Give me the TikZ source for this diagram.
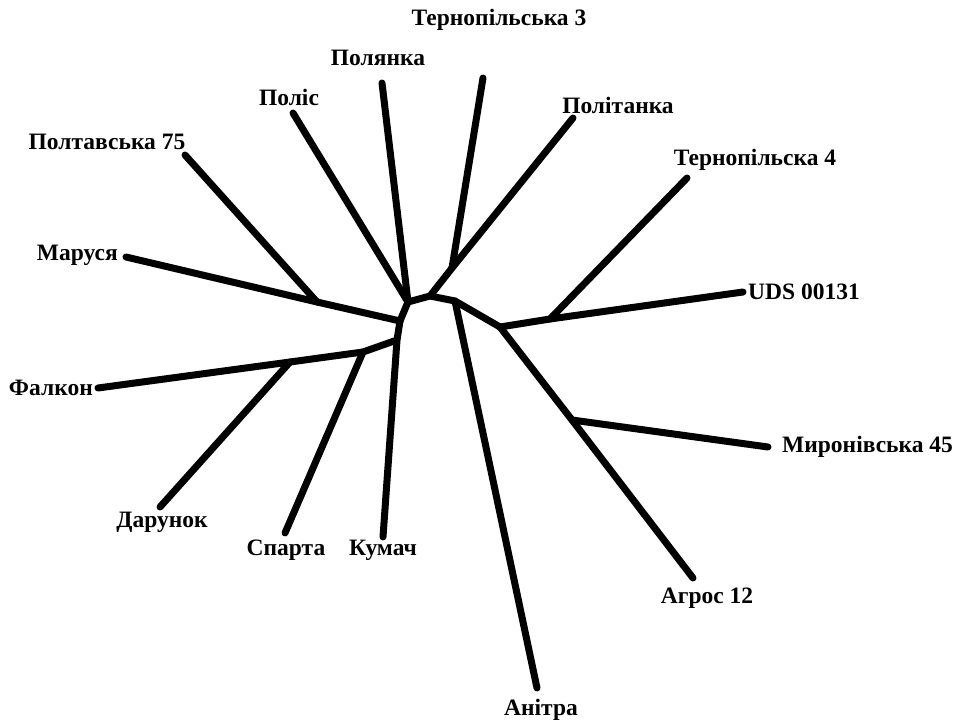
\documentclass[tikz,border=0pt]{standalone}
\usepackage{fontspec}
\setmainfont{Liberation Serif}
\begin{document}
\begin{tikzpicture}[x=1pt,y=-1pt,
  branch/.style={line width=7pt,line cap=round,line join=round},
  leaf/.style={font=\fontsize{23.5}{25}\selectfont\bfseries,inner sep=0pt}]
\useasboundingbox (0,0) rectangle (956,722);
% internal junctions
\coordinate (j1) at (408,302);
\coordinate (j2) at (430,296);
\coordinate (j3) at (452,268);
\coordinate (j4) at (455,301);
\coordinate (j5) at (500,327);
\coordinate (j6) at (400,321);
\coordinate (j7) at (397,340);
\coordinate (kt4) at (550,319);
\coordinate (km45) at (572,420);
\coordinate (kp75) at (317,302);
\coordinate (ksp) at (363,352);
\coordinate (kdar) at (290,362);
% leaf ends
\coordinate (epolis) at (293,113);
\coordinate (epol) at (382,83);
\coordinate (et3) at (483,78);
\coordinate (epolit) at (573,118);
\coordinate (et4) at (687,178);
\coordinate (euds) at (743,292);
\coordinate (em45) at (768,447);
\coordinate (eagr) at (693,578);
\coordinate (eanit) at (537,688);
\coordinate (ekum) at (383,537);
\coordinate (espar) at (285,533);
\coordinate (edar) at (160,507);
\coordinate (efal) at (98,388);
\coordinate (emar) at (126,257);
\coordinate (ep75) at (185,155);
% labels
\node[leaf] (lt3) at (499,20) {Тернопільська 3};
\node[leaf] (lpol) at (378,58) {Полянка};
\node[leaf] (lpolis) at (289,97) {Поліс};
\node[leaf] (lp75) at (107,142) {Полтавська 75};
\node[leaf] (lpolit) at (618,105) {Політанка};
\node[leaf] (lt4) at (755,160) {Тернопільска 4};
\node[leaf,anchor=west] (luds) at (748,292) {UDS 00131};
\node[leaf,anchor=west] (lm45) at (782,447) {Миронівська 45};
\node[leaf] (lagr) at (707,598) {Агрос 12};
\node[leaf] (lanit) at (541,710) {Анітра};
\node[leaf] (lkum) at (383,550) {Кумач};
\node[leaf] (lspar) at (286,550) {Спарта};
\node[leaf] (ldar) at (162,522) {Дарунок};
\node[leaf,anchor=east] (lfal) at (93,388) {Фалкон};
\node[leaf,anchor=east] (lmar) at (118,255) {Маруся};
% branches
\draw[branch] (epolis) -- (j1);
\draw[branch] (epol) -- (j1);
\draw[branch] (j6) -- (j1) -- (j2) -- (j4) -- (j5);
\draw[branch] (j2) -- (j3) -- (epolit);
\draw[branch] (j3) -- (et3);
\draw[branch] (j4) -- (eanit);
\draw[branch] (j5) -- (kt4) -- (euds);
\draw[branch] (kt4) -- (et4);
\draw[branch] (j5) -- (km45) -- (eagr);
\draw[branch] (km45) -- (em45);
\draw[branch] (j6) -- (kp75) -- (emar);
\draw[branch] (kp75) -- (ep75);
\draw[branch] (j6) -- (j7) -- (ekum);
\draw[branch] (j7) -- (ksp) -- (kdar) -- (efal);
\draw[branch] (ksp) -- (espar);
\draw[branch] (kdar) -- (edar);
\end{tikzpicture}
\end{document}
